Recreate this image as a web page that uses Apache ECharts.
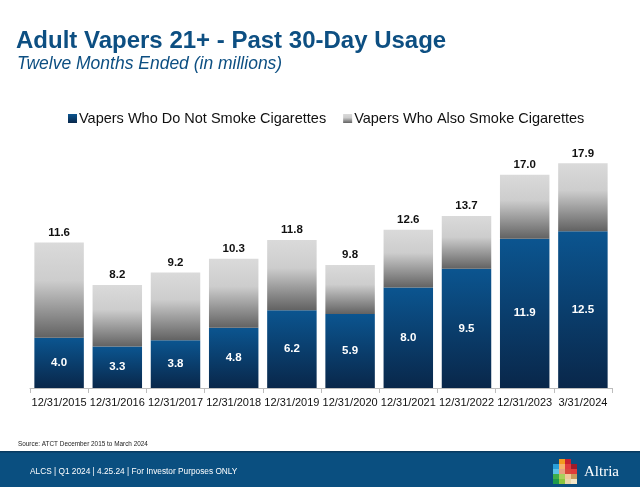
<!DOCTYPE html>
<html><head><meta charset="utf-8">
<script src="https://cdn.jsdelivr.net/npm/echarts@6/dist/echarts.min.js"></script>
<style>html,body{margin:0;padding:0;background:#fff}#c{width:640px;height:487px}</style>
</head><body><div id="c"></div>
<script>
const categories = ['12/31/2015','12/31/2016','12/31/2017','12/31/2018','12/31/2019','12/31/2020','12/31/2021','12/31/2022','12/31/2023','3/31/2024'];
const nonSmokers = [4.0,3.3,3.8,4.8,6.2,5.9,8.0,9.5,11.9,12.5];
const totals = [11.6,8.2,9.2,10.3,11.8,9.8,12.6,13.7,17.0,17.9];
const alsoSmoke = totals.map((t,i)=>+(t-nonSmokers[i]).toFixed(1));

const F = '"Liberation Sans", Arial, sans-serif';
const chart = echarts.init(document.getElementById('c'));
const logoColors = [
 ['', '#f39a1f', '#c8202f',''],
 ['#2a9fd8','#f6b26b','#e03a3e','#9d1c2a'],
 ['#5cc3e6','#e8a07e','#d9483b','#e23b3a'],
 ['#3fae49','#a7d05a','#f0c89a','#c99a5a'],
 ['#1f9a4a','#8cc63f','#e9d6a8','#f3e6c8']
];
const logoEls = [];
logoColors.forEach((row,r)=>row.forEach((c,k)=>{ if(c) logoEls.push({type:'rect',left:553+k*6,top:459+r*5,shape:{width:6,height:5},style:{fill:c}}); }));

chart.setOption({
  animation:false,
  textStyle:{fontFamily:F},
  title:[
    {text:'Adult Vapers 21+ - Past 30-Day Usage',left:11,top:24,textStyle:{fontFamily:F,fontSize:24,fontWeight:'bold',color:'#0d4f82'}},
    {text:'Twelve Months Ended (in millions)',left:12,top:50,textStyle:{fontFamily:F,fontSize:17.5,fontStyle:'italic',fontWeight:'normal',color:'#0d4f82'}}
  ],
  legend:{
    top:106,left:63,itemWidth:9,itemHeight:9,itemGap:17,icon:'rect',
    textStyle:{fontFamily:F,fontSize:14.5,color:'#111',padding:[0,0,0,-3]},
    data:['Vapers Who Do Not Smoke Cigarettes','Vapers Who Also Smoke Cigarettes']
  },
  grid:{left:30,right:28,top:137,bottom:99,containLabel:false},
  xAxis:{type:'category',data:categories,
    axisLine:{lineStyle:{color:'#bdbdbd'}},
    axisTick:{show:true,length:5,lineStyle:{color:'#bdbdbd'}},
    axisLabel:{fontFamily:F,fontSize:11,color:'#111',margin:9,interval:0}},
  yAxis:{type:'value',min:0,max:20,show:false,splitLine:{show:false}},
  series:[
    {name:'Vapers Who Do Not Smoke Cigarettes',type:'bar',stack:'t',barWidth:'85%',data:nonSmokers,
     itemStyle:{color:new echarts.graphic.LinearGradient(0,0,0,1,[{offset:0,color:'#0b5590'},{offset:1,color:'#09274a'}])},
     label:{show:true,position:'inside',color:'#fff',fontWeight:'bold',fontSize:11.5,fontFamily:F,formatter:p=>p.value.toFixed(1)}},
    {name:'Vapers Who Also Smoke Cigarettes',type:'bar',stack:'t',barWidth:'85%',data:alsoSmoke,
     itemStyle:{color:new echarts.graphic.LinearGradient(0,0,0,1,[{offset:0,color:'#dadada'},{offset:0.4,color:'#cdcdcd'},{offset:1,color:'#626262'}])},
     label:{show:true,position:'top',distance:4,color:'#111',fontWeight:'bold',fontSize:11.5,fontFamily:F,formatter:p=>totals[p.dataIndex].toFixed(1)}}
  ],
  graphic:[
    {type:'text',left:18,top:441,style:{text:'Source: ATCT December 2015 to March 2024',font:'6.4px '+F,fill:'#222'}},
    {type:'rect',left:0,top:452,shape:{width:640,height:35},style:{fill:'#0a4f80'}},
    {type:'rect',left:0,top:451,shape:{width:640,height:1.5},style:{fill:'#083a60'}},
    {type:'text',left:30,top:468,style:{text:'ALCS | Q1 2024 | 4.25.24 | For Investor Purposes ONLY',font:'8.3px '+F,fill:'#fff'}},
    {type:'text',left:584,top:465,style:{text:'Altria',font:'15px "Liberation Serif", serif',fill:'#fff'}}
  ].concat(logoEls)
});
</script></body></html>
